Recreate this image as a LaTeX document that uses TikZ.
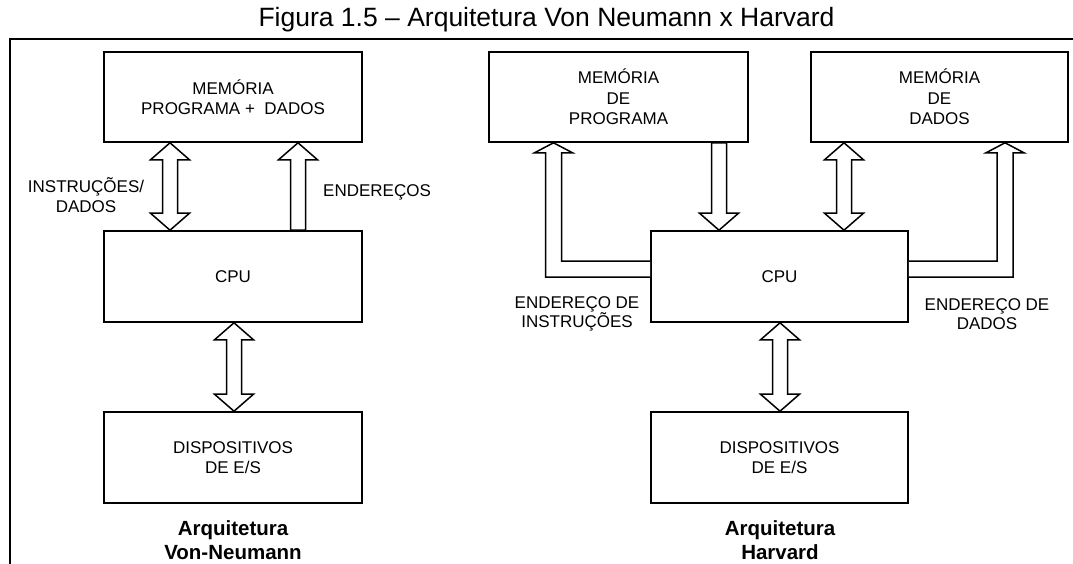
\documentclass[tikz,border=0pt]{standalone}
\usepackage{fontspec}
\setmainfont{Liberation Sans}
\usetikzlibrary{calc}

% block-arrow geometry: half shaft width, half head width, head length
\def\sw{7.5}
\def\hh{19.5}
\def\hl{17}

% two-headed bus between the bottom of #2 and the top of #3, on the vertical of #1
\newcommand\bibus[3]{%
  \draw[blk] (#1 |- #2.south) -- ++(\hh,\hl) -- ++(-\hh+\sw,0)
    -- ($(#1 |- #3.north)+(\sw,-\hl)$) -- ++(\hh-\sw,0) -- (#1 |- #3.north)
    -- ++(-\hh,-\hl) -- ++(\hh-\sw,0)
    -- ($(#1 |- #2.south)+(-\sw,\hl)$) -- ++(-\hh+\sw,0) -- cycle;}
% one-headed bus pointing up, into the bottom of #2, starting at the top of #3
\newcommand\upbus[3]{%
  \draw[blk] (#1 |- #2.south) -- ++(\hh,\hl) -- ++(-\hh+\sw,0)
    -- ($(#1 |- #3.north)+(\sw,0)$) -- ($(#1 |- #3.north)+(-\sw,0)$)
    -- ($(#1 |- #2.south)+(-\sw,\hl)$) -- ++(-\hh+\sw,0) -- cycle;}
% one-headed bus pointing down, from the bottom of #2 into the top of #3
\newcommand\downbus[3]{%
  \draw[blk] (#1 |- #3.north) -- ++(\hh,-\hl) -- ++(-\hh+\sw,0)
    -- ($(#1 |- #2.south)+(\sw,0)$) -- ($(#1 |- #2.south)+(-\sw,0)$)
    -- ($(#1 |- #3.north)+(-\sw,-\hl)$) -- ++(-\hh+\sw,0) -- cycle;}

\tikzset{
  box/.style={draw, line width=1.6pt, align=center, inner sep=0pt,
    font=\fontsize{17}{20.5}\selectfont},
  blk/.style={draw, fill=white, line width=1.5pt, line join=miter},
  lbl/.style={align=center, inner sep=0pt, font=\fontsize{17}{19.5}\selectfont},
  archlbl/.style={align=center, inner sep=0pt, font=\bfseries\fontsize{20.5}{24}\selectfont},
}

\begin{document}
\begin{tikzpicture}[x=1pt, y=-1pt]
\useasboundingbox (0,0) rectangle (1073,564);

% title and frame
\node[anchor=base, inner sep=0pt, font=\fontsize{26.5}{30}\selectfont] (title) at (546.5,27)
  {Figura 1.5 – Arquitetura Von Neumann x Harvard};
\draw[line width=1.8pt] (10,564) -- (10,39) -- (1073,39);

% Von Neumann
\node[box, minimum width=258pt, minimum height=90pt] (vnmem) at (233,97)
  {MEMÓRIA\\PROGRAMA +\ \ DADOS};
\node[box, minimum width=258pt, minimum height=91pt] (vncpu) at (233,276.5) {CPU};
\node[box, minimum width=258pt, minimum height=91pt] (vnio) at (233,457.5)
  {DISPOSITIVOS\\DE E/S};

% Harvard
\node[box, minimum width=259pt, minimum height=90pt] (hpmem) at (618.5,97)
  {MEMÓRIA\\DE\\PROGRAMA};
\node[box, minimum width=257pt, minimum height=90pt] (hdmem) at (939.5,97)
  {MEMÓRIA\\DE\\DADOS};
\node[box, minimum width=257pt, minimum height=91pt] (hcpu) at (779.5,276.5) {CPU};
\node[box, minimum width=257pt, minimum height=91pt] (hio) at (779.5,457.5)
  {DISPOSITIVOS\\DE E/S};

% bus positions
\coordinate (b1) at (170,0);
\coordinate (b2) at (298,0);
\coordinate (b3) at (234,0);
\coordinate (b4) at (719,0);
\coordinate (b5) at (844,0);
\coordinate (b6) at (780,0);
\coordinate (ia) at (553.5,269);
\coordinate (da) at (1005,269);

% Von Neumann buses
\bibus{b1}{vnmem}{vncpu}
\upbus{b2}{vnmem}{vncpu}
\bibus{b3}{vncpu}{vnio}

% Harvard buses
\downbus{b4}{hpmem}{hcpu}
\bibus{b5}{hdmem}{hcpu}
\bibus{b6}{hcpu}{hio}

% instruction address bus
\draw[blk] ($(hcpu.west |- ia)+(0,8)$) -- ($(ia)+(-8,8)$)
  -- ($(ia |- hpmem.south)+(-8,10)$) -- ++(-11,0) -- (ia |- hpmem.south)
  -- ++(19,10) -- ++(-11,0) -- ($(ia)+(8,-8)$) -- ($(hcpu.west |- ia)+(0,-8)$);
% data address bus
\draw[blk] ($(hcpu.east |- da)+(0,8)$) -- ($(da)+(8,8)$)
  -- ($(da |- hdmem.south)+(8,10)$) -- ++(11,0) -- (da |- hdmem.south)
  -- ++(-19,10) -- ++(11,0) -- ($(da)+(-8,-8)$) -- ($(hcpu.east |- da)+(0,-8)$);

% bus labels
\node[lbl] (lid) at (86,195) {INSTRUÇÕES/\\DADOS};
\node[lbl] (lend) at (377,192) {ENDEREÇOS};
\node[lbl] (lei) at (577,314) {ENDEREÇO DE\\INSTRUÇÕES};
\node[lbl] (led) at (987,314) {ENDEREÇO DE\\DADOS};

% architecture names
\node[archlbl] (avn) at (233,540) {Arquitetura\\Von-Neumann};
\node[archlbl] (ahv) at (780,540) {Arquitetura\\Harvard};
\end{tikzpicture}
\end{document}
